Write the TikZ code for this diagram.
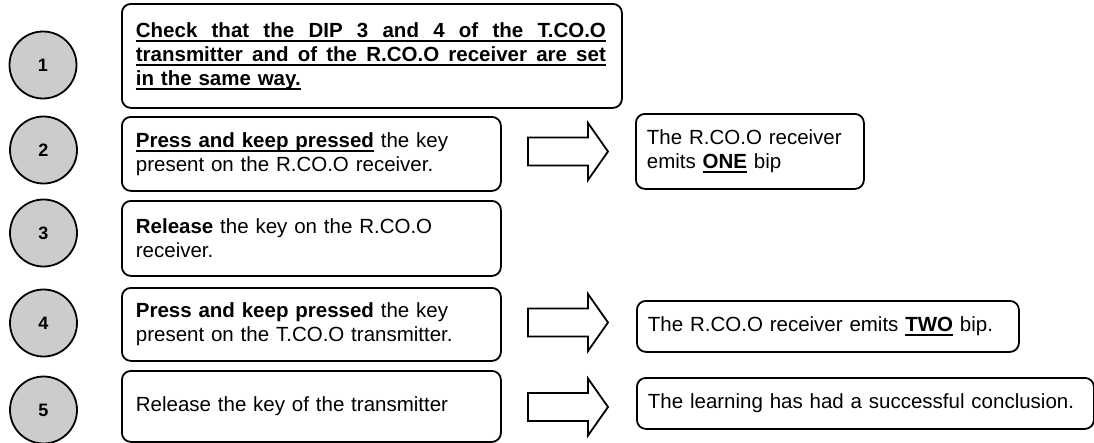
\documentclass[tikz,border=0pt]{standalone}
\usepackage{fontspec}
\setmainfont{Liberation Sans}
\definecolor{numgray}{HTML}{CCCCCC}
% thick underline drawn below a box of text
\newsavebox{\ulsave}
\newcommand{\ulin}[1]{\leavevmode\sbox{\ulsave}{#1}\rlap{\rule[-4.5pt]{\wd\ulsave}{1.8pt}}\usebox{\ulsave}}
% a line whose word spaces stretch to the given width
\newcommand{\fullline}[2]{\hbox to #1{\spaceskip=0.278em plus 4em\relax\xspaceskip=\spaceskip #2}}
\tikzset{
  stepbox/.style={draw, line width=1.8pt, rounded corners=9pt, inner xsep=14pt,
    inner ysep=0pt, align=left, anchor=north west,
    font=\fontsize{20.5}{24}\selectfont},
  resultbox/.style={stepbox, inner xsep=11pt},
  stepnum/.style={circle, draw, line width=1.8pt, fill=numgray, minimum size=67pt,
    inner sep=0pt, font=\bfseries\fontsize{18}{20}\selectfont},
  blockarr/.pic={
    \draw[line width=1.8pt, miter limit=10]
      (-40,-14) -- (20,-14) -- (20,-28.5) -- (40,0) -- (20,28.5) -- (20,14) -- (-40,14) -- cycle;
  },
}
\begin{document}
\begin{tikzpicture}[x=1pt,y=-1pt]
  \fill[white] (0,0) rectangle (1094,442);
  \useasboundingbox (0,0) rectangle (1094,442);

  % step numbers
  \node[stepnum] (n1) at (43,65)    {1};
  \node[stepnum] (n2) at (43.5,150) {2};
  \node[stepnum] (n3) at (43.5,233) {3};
  \node[stepnum] (n4) at (43.5,323) {4};
  \node[stepnum] (n5) at (43.5,410) {5};

  % step instructions
  \node[stepbox, text width=472pt, minimum height=104pt] (s1) at (121,3)
    {\bfseries\ulin{\fullline{470pt}{Check that the DIP 3 and 4 of the T.CO.O}}\\%
     \ulin{\fullline{470pt}{transmitter and of the R.CO.O receiver are set}}\\%
     \ulin{in the same way.}};
  \node[stepbox, text width=351pt, minimum height=74pt] (s2) at (121,116)
    {\ulin{\textbf{Press and keep pressed}} the key\\present on the R.CO.O receiver.};
  \node[stepbox, text width=351pt, minimum height=75pt] (s3) at (121,200)
    {\textbf{Release} the key on the R.CO.O\\receiver.};
  \node[stepbox, text width=351pt, minimum height=73pt] (s4) at (121,287)
    {\textbf{Press and keep pressed} the key\\present on the T.CO.O transmitter.};
  \node[stepbox, text width=351pt, minimum height=71pt] (s5) at (121,370)
    {Release the key of the transmitter};

  % results
  \node[resultbox, text width=206pt, minimum height=75pt] (r2) at (635,113)
    {The R.CO.O receiver\\emits \ulin{\textbf{ONE}} bip};
  \node[resultbox, text width=360pt, minimum height=51pt] (r4) at (636,300)
    {\mbox{The R.CO.O receiver emits \ulin{\textbf{TWO}} bip.}};
  \node[resultbox, text width=435pt, minimum height=51pt] (r5) at (636,377)
    {\mbox{The learning has had a successful conclusion.}};

  % block arrows from step to result
  \pic at (568,151.5) {blockarr};
  \pic at (568,322.5) {blockarr};
  \pic at (568,407)   {blockarr};
\end{tikzpicture}
\end{document}
